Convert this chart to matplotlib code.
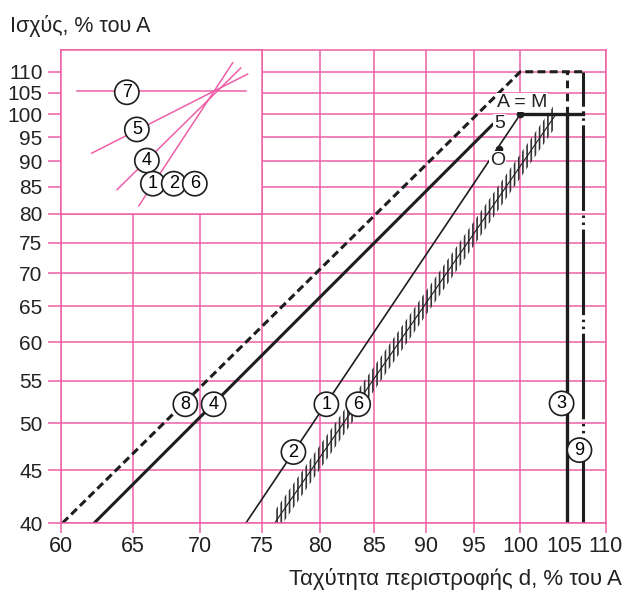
import matplotlib
matplotlib.use('Agg')
import matplotlib.pyplot as plt
import numpy as np
from matplotlib.ticker import NullLocator, FixedLocator, FixedFormatter

plt.rcParams['font.family'] = ['Liberation Sans', 'DejaVu Sans']
plt.rcParams['hatch.linewidth'] = 1.2

PINK = '#ee5fa7'
INK = '#1e1e1e'

# axes
x_ticks = [60, 65, 70, 75, 80, 85, 90, 95, 100, 110]
x_extra_tick = 105
y_ticks = [40, 45, 50, 55, 60, 65, 70, 75, 80, 85, 90, 95, 100, 105, 110]
x_lim = (60, 110)
y_lim = (40, 115.5)

# curves (speed %, power %)
line8_x = [60.1, 100, 107.2]       # dashed
line8_y = [40, 110, 110]
line4_x = [62.26, 97.0]
line4_y = [40, 97.8]
line1_x = [73.7, 100]
line1_y = [40, 100]
band6_x = [76.1, 103.9]            # hatched band
band6_y = [40, 99.6]
line3_x = [105.3, 105.3]
line3_y = [40, 100]
line3_top_y = [100, 110]
line9_x = [107.2, 107.2]
line9_y = [40, 110]
rated_x = [100, 107.2]
rated_y = [100, 100]
point_am = (100, 100)
point_o = (97.7, 92.6)

circle_labels = [('8', 68.9, 52.2), ('4', 71.1, 52.2), ('1', 80.6, 52.2),
                 ('6', 83.5, 52.2), ('2', 77.7, 46.9), ('3', 104.7, 52.3),
                 ('9', 106.8, 47.1)]
text_labels = [('A = M', 100.2, 102.6), ('5', 97.7, 98.0), ('O', 97.5, 90.1)]

# inset sketch (normalised coordinates)
inset_lines = [([0.08, 0.92], [0.748, 0.748]),
               ([0.153, 0.930], [0.370, 0.853]),
               ([0.279, 0.896], [0.147, 0.890]),
               ([0.388, 0.856], [0.049, 0.922])]
inset_labels = [('7', 0.328, 0.742), ('5', 0.378, 0.515), ('4', 0.428, 0.325),
                ('1', 0.458, 0.184), ('2', 0.562, 0.184), ('6', 0.667, 0.184)]

fig = plt.figure(figsize=(6.25, 5.96), dpi=100)
ax = fig.add_axes([61 / 625, 73 / 596, 545 / 625, 473 / 596])
ax.set_xscale('log')
ax.set_yscale('log')
ax.set_xlim(*x_lim)
ax.set_ylim(*y_lim)

ax.xaxis.set_major_locator(FixedLocator(x_ticks))
ax.xaxis.set_major_formatter(FixedFormatter([str(v) for v in x_ticks]))
ax.xaxis.set_minor_locator(FixedLocator([x_extra_tick]))
ax.xaxis.set_minor_formatter(FixedFormatter([str(x_extra_tick)]))
ax.yaxis.set_major_locator(FixedLocator(y_ticks))
ax.yaxis.set_major_formatter(FixedFormatter([str(v) for v in y_ticks]))
ax.yaxis.set_minor_locator(NullLocator())

ax.tick_params(axis='x', which='major', length=7.2, width=1.1, color=PINK,
               labelsize=15.5, pad=2.5, labelcolor='#222222')
ax.tick_params(axis='x', which='minor', length=0, labelsize=15.5, pad=9.7,
               labelcolor='#222222')
ax.tick_params(axis='y', length=9.4, width=1.1, color=PINK, labelsize=15,
               pad=4, labelcolor='#222222')
ax.grid(True, which='major', color=PINK, lw=1.1)
ax.set_axisbelow(True)
for s in ax.spines.values():
    s.set_color(PINK)
    s.set_linewidth(1.1)

# curves
ax.plot(line8_x, line8_y, color=INK, lw=2.2, ls=(0, (2.6, 1.4)))
ax.plot(line4_x, line4_y, color=INK, lw=2.2, solid_capstyle='round')
ax.plot(line1_x, line1_y, color=INK, lw=1.2)
k = np.exp(12 / 446)
ax.fill_between(band6_x, [v / k for v in band6_y], [v * k for v in band6_y],
                facecolor='none', edgecolor='#333333', hatch='||||', lw=0)
ax.plot(band6_x, band6_y, color=INK, lw=0.8)
ax.plot(line3_x, line3_y, color=INK, lw=2.4)
ax.plot(line3_x, line3_top_y, color=INK, lw=2.2, ls=(0, (2.5, 1.8)))
ax.plot(line9_x, line9_y, color=INK, lw=2.2, dash_capstyle='butt',
        ls=(0, (28, 1.5, 0.8, 1.5, 0.8, 1.5)))
ax.plot(rated_x, rated_y, color=INK, lw=2.4)
ax.plot(*point_am, 'o', color=INK, ms=4.5)
ax.plot(*point_o, 'o', color=INK, ms=4.5)

for t, x, y in circle_labels:
    ax.text(x, y, t, fontsize=13, ha='center', va='center', zorder=6,
            bbox=dict(boxstyle='circle,pad=0.2', fc='white', ec=INK, lw=1.2))
for t, x, y in text_labels:
    ax.text(x, y, t, fontsize=14, ha='center', va='center', color='#222222', zorder=6,
            bbox=dict(boxstyle='square,pad=0.05', fc='white', ec='none'))

# inset sketch
fx = np.log(75 / 60) / np.log(x_lim[1] / x_lim[0])
fy = np.log(80 / 40) / np.log(y_lim[1] / y_lim[0])
ins = ax.inset_axes([0, fy, fx, 1 - fy])
ins.set_xlim(0, 1)
ins.set_ylim(0, 1)
ins.set_xticks([])
ins.set_yticks([])
ins.set_facecolor('white')
for s in ins.spines.values():
    s.set_color(PINK)
    s.set_linewidth(1.1)
for xs, ys in inset_lines:
    ins.plot(xs, ys, color=PINK, lw=1.1)
for t, x, y in inset_labels:
    ins.text(x, y, t, fontsize=13, ha='center', va='center', zorder=6,
             bbox=dict(boxstyle='circle,pad=0.2', fc='white', ec=INK, lw=1.2))

fig.text(10 / 625, 1 - 32 / 596, 'Ισχύς, % του A', fontsize=15.5, va='baseline',
         color='#222222')
fig.text(622 / 625, 1 - 585 / 596, 'Ταχύτητα περιστροφής d, % του A', fontsize=16,
         ha='right', va='baseline', color='#222222')

fig.savefig('out.png', dpi=100)
